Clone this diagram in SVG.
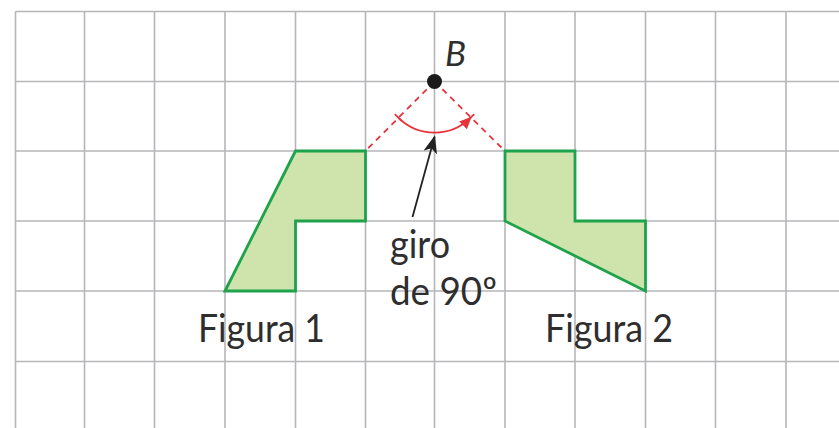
<svg xmlns="http://www.w3.org/2000/svg" width="839" height="428" viewBox="0 0 839 428">
<style>
.grid line{stroke:#b6b6ba;stroke-width:1.6}
.fig{fill:#cfe4ad;stroke:#1ea24b;stroke-width:2.8;stroke-linejoin:miter}
.red{stroke:#e8323c;stroke-width:1.8;fill:none}
.dash{stroke-dasharray:6 5}
.lbl{font-family:Lato,"Open Sans","Liberation Sans",sans-serif;fill:#2e2e2e;font-size:38px}
</style>
<defs>
<marker id="ra" viewBox="0 0 10 10" refX="9" refY="5" markerWidth="12" markerHeight="11" markerUnits="userSpaceOnUse" orient="auto" preserveAspectRatio="none"><path d="M0,0 L10,5 L0,10 Z" fill="#e8323c"/></marker>
<marker id="ba" viewBox="0 0 10 10" refX="9" refY="5" markerWidth="18" markerHeight="14" markerUnits="userSpaceOnUse" orient="auto" preserveAspectRatio="none"><path d="M0,0 L10,5 L0,10 L2.5,5 Z" fill="#222"/></marker>
</defs>
<rect width="839" height="428" fill="#fff"/>
<g id="grid" class="grid">
<line x1="15.5" y1="11.5" x2="839" y2="11.5"/>
<line x1="15.5" y1="81.5" x2="839" y2="81.5"/>
<line x1="15.5" y1="151" x2="839" y2="151"/>
<line x1="15.5" y1="221" x2="839" y2="221"/>
<line x1="15.5" y1="291" x2="839" y2="291"/>
<line x1="15.5" y1="361.5" x2="839" y2="361.5"/>
<line x1="15.5" y1="11.5" x2="15.5" y2="428"/>
<line x1="84.5" y1="11.5" x2="84.5" y2="428"/>
<line x1="154.5" y1="11.5" x2="154.5" y2="428"/>
<line x1="225" y1="11.5" x2="225" y2="428"/>
<line x1="295.5" y1="11.5" x2="295.5" y2="428"/>
<line x1="365.5" y1="11.5" x2="365.5" y2="428"/>
<line x1="434.5" y1="11.5" x2="434.5" y2="428"/>
<line x1="505" y1="11.5" x2="505" y2="428"/>
<line x1="575" y1="11.5" x2="575" y2="428"/>
<line x1="645.5" y1="11.5" x2="645.5" y2="428"/>
<line x1="715.5" y1="11.5" x2="715.5" y2="428"/>
<line x1="786" y1="11.5" x2="786" y2="428"/>
</g>
<g id="figura1">
<polygon class="fig" points="225,291 295.5,151 365.5,151 365.5,221 295.5,221 295.5,291"/>
<text class="lbl" x="198" y="342" textLength="127" lengthAdjust="spacingAndGlyphs">Figura 1</text>
</g>
<g id="figura2">
<polygon class="fig" points="505,151 575,151 575,221 645.5,221 645.5,291 505,221"/>
<text class="lbl" x="545" y="342" textLength="128" lengthAdjust="spacingAndGlyphs">Figura 2</text>
</g>
<g id="connectors">
<line class="red dash" x1="434.5" y1="81.5" x2="365.5" y2="151"/>
<line class="red dash" x1="434.5" y1="81.5" x2="505" y2="151"/>
<line class="red" x1="394.8" y1="114.2" x2="401.8" y2="121.2"/>
<line class="red" x1="474.2" y1="114.2" x2="467.2" y2="121.2"/>
<path class="red" d="M398.3,117.7 A51.2,51.2 0 0 0 470.7,117.7" marker-end="url(#ra)"/>
<line x1="412.5" y1="217" x2="434.5" y2="137" stroke="#222" stroke-width="1.8" marker-end="url(#ba)"/>
</g>
<g id="B">
<circle cx="434.5" cy="81.5" r="7.5" fill="#1a1a1a"/>
<text x="445" y="66" font-family="Lato,'Open Sans','Liberation Sans',sans-serif" font-style="italic" font-size="35" fill="#2e2e2e">B</text>
</g>
<g id="giro">
<text class="lbl" x="390" y="258" textLength="60" lengthAdjust="spacingAndGlyphs">giro</text>
<text class="lbl" x="390" y="305" textLength="107" lengthAdjust="spacingAndGlyphs">de 90º</text>
</g>
</svg>
